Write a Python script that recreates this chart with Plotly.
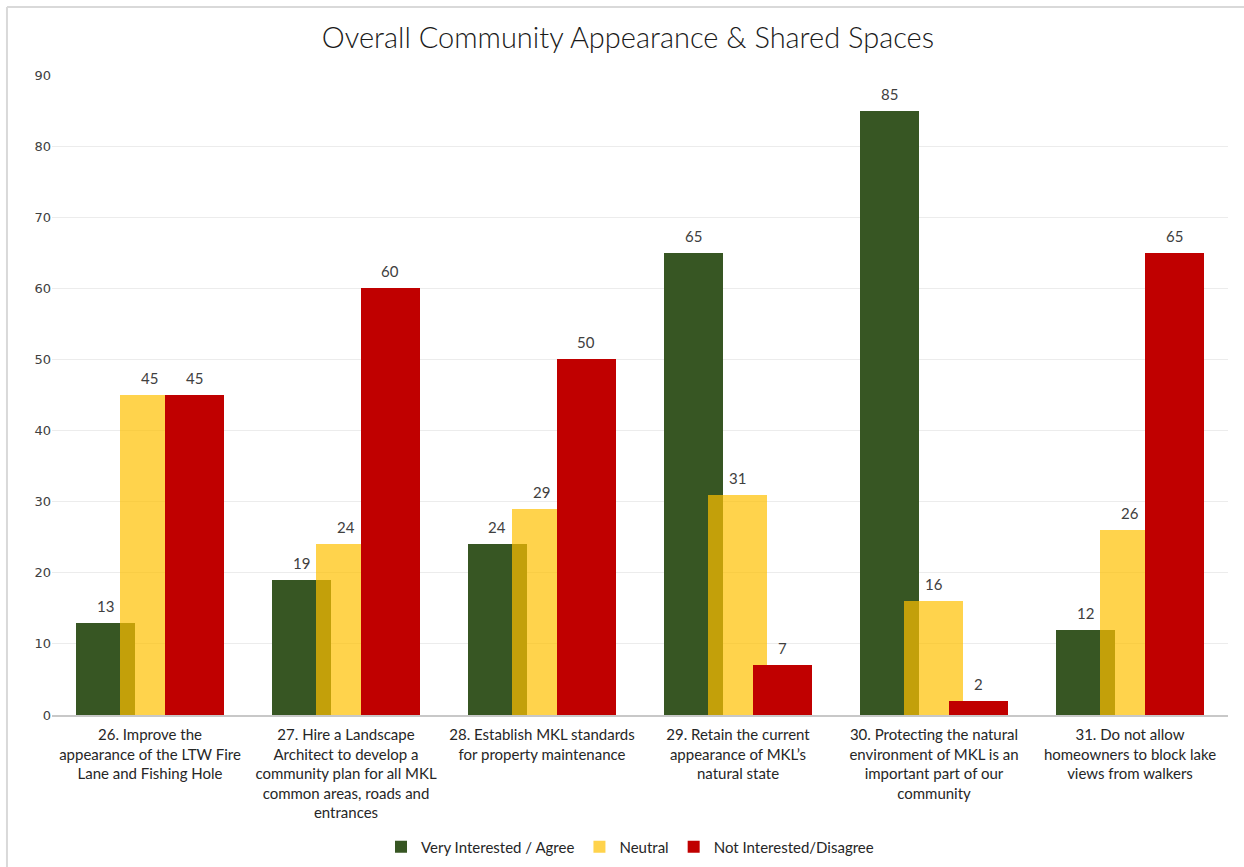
import plotly.graph_objects as go

# Survey results: Overall Community Appearance & Shared Spaces
categories = [
    "26. Improve the<br>appearance of the LTW Fire<br>Lane and Fishing Hole",
    "27. Hire a Landscape<br>Architect to develop a<br>community plan for all MKL<br>common areas, roads and<br>entrances",
    "28. Establish MKL standards<br>for property maintenance",
    "29. Retain the current<br>appearance of MKL’s<br>natural state",
    "30. Protecting the natural<br>environment of MKL is an<br>important part of our<br>community",
    "31. Do not allow<br>homeowners to block lake<br>views from walkers",
]
agree = [13, 19, 24, 65, 85, 12]
neutral = [45, 24, 29, 31, 16, 26]
disagree = [45, 60, 50, 7, 2, 65]

series_names = ["Very Interested / Agree", "Neutral", "Not Interested/Disagree"]
series_values = [agree, neutral, disagree]
series_colors = ["#375623", "rgba(255,192,0,0.7)", "#C00000"]

# overlapping bars: each bar is 0.30 wide, shifted 0.227 from the previous one
bar_width = 0.30
offsets = [-0.378, -0.151, 0.076]

x_pos = list(range(len(categories)))
label_font = "Lato, 'Open Sans', sans-serif"

fig = go.Figure()
annotations = []
for name, vals, color, off in zip(series_names, series_values, series_colors, offsets):
    fig.add_trace(go.Bar(
        x=x_pos, y=vals, name=name,
        width=bar_width, offset=off,
        marker=dict(color=color, line=dict(width=0)),
        hoverinfo="y+name",
    ))
    for xi, v in zip(x_pos, vals):
        annotations.append(dict(
            x=xi + off + bar_width / 2, y=v, xref="x", yref="y",
            text=str(v), showarrow=False, yanchor="bottom", yshift=6,
            font=dict(family=label_font, size=15, color="#404040"),
        ))

# thin frame on the left and top edges
frame = dict(type="line", xref="paper", yref="paper",
             line=dict(color="#D9D9D9", width=2))
shapes = [
    dict(frame, x0=-0.0383, x1=-0.0383, y0=1.10625, y1=-0.25),
    dict(frame, x0=-0.0383, x1=1.02, y0=1.10625, y1=1.10625),
]

fig.update_layout(
    width=1244, height=867,
    margin=dict(l=52, r=16, t=75, b=152, autoexpand=False),
    paper_bgcolor="white", plot_bgcolor="white",
    barmode="overlay",
    title=dict(
        text="Overall Community Appearance &amp; Shared Spaces",
        x=0.5048, xanchor="center", y=0.956, yanchor="middle",
        font=dict(family="Lato, 'Open Sans', sans-serif", size=29, color="#1a1a1a", weight=300),
    ),
    xaxis=dict(
        tickmode="array", tickvals=x_pos, ticktext=categories,
        range=[-0.5, len(categories) - 0.5],
        showgrid=False, zeroline=False, automargin=False,
        showline=True, linecolor="#C8C8C8", linewidth=2,
        ticks="", tickangle=0, ticklabelstandoff=5,
        tickfont=dict(family=label_font, size=15, color="#262626"),
    ),
    yaxis=dict(
        range=[0, 90], dtick=10, tick0=0, automargin=False,
        showgrid=True, gridcolor="#ECECEC", gridwidth=1,
        zeroline=False, showline=False, ticks="",
        tickfont=dict(family="'DejaVu Sans', sans-serif", size=13, color="#404040"),
    ),
    legend=dict(
        orientation="h", xref="paper", x=0.4915, xanchor="center",
        yref="container", y=0.0231, yanchor="middle",
        font=dict(family=label_font, size=15, color="#262626"),
        traceorder="normal", itemwidth=30,
    ),
    annotations=annotations,
    shapes=shapes,
    bargap=0,
)

fig.write_html("out.html")
